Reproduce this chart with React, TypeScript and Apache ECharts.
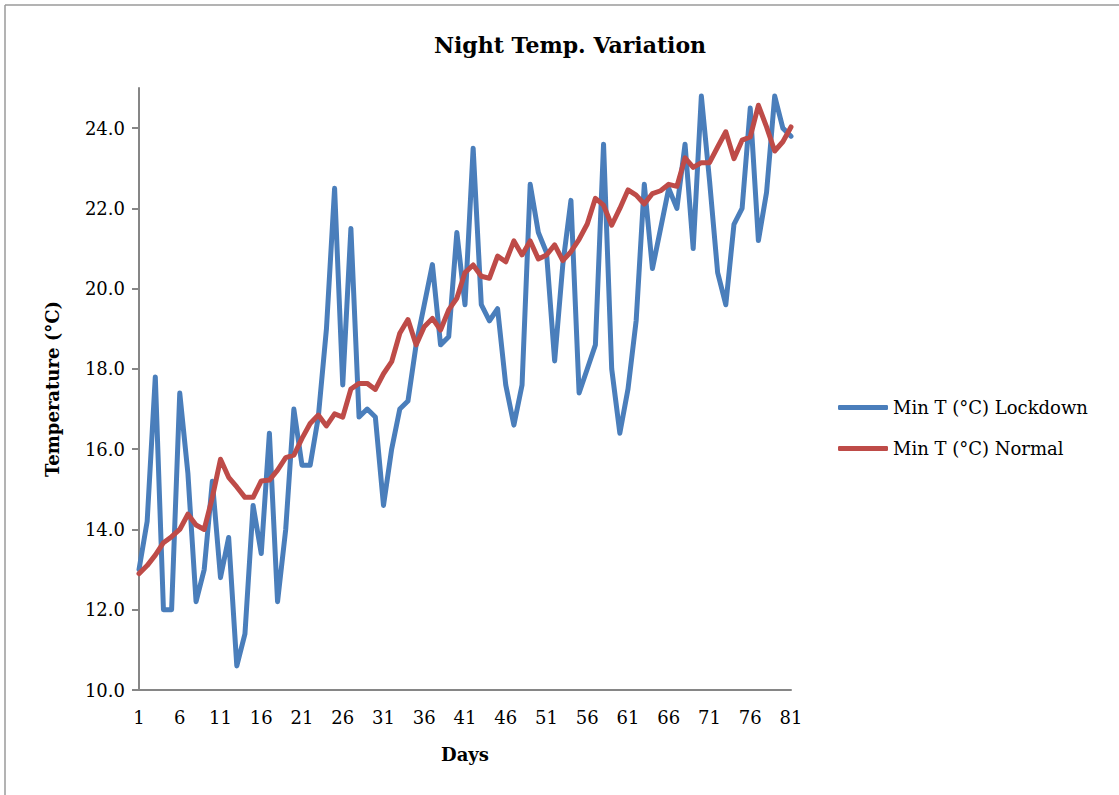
import React, { useEffect, useRef } from "react";
import * as echarts from "echarts";

const days: string[] = [];
for (let i = 1; i <= 81; i++) days.push(String(i));

const yTicks = [10, 12, 14, 16, 18, 20, 22, 24];

const lockdown = [
  13.0, 14.2, 17.8, 12.0, 12.0, 17.4, 15.4, 12.2, 13.0, 15.2,
  12.8, 13.8, 10.6, 11.4, 14.6, 13.4, 16.4, 12.2, 14.0, 17.0,
  15.6, 15.6, 16.8, 19.0, 22.5, 17.6, 21.5, 16.8, 17.0, 16.8,
  14.6, 16.0, 17.0, 17.2, 18.6, 19.6, 20.6, 18.6, 18.8, 21.4,
  19.6, 23.5, 19.6, 19.2, 19.5, 17.6, 16.6, 17.6, 22.6, 21.4,
  20.9, 18.2, 20.6, 22.2, 17.4, 18.0, 18.6, 23.6, 18.0, 16.4,
  17.5, 19.2, 22.6, 20.5, 21.5, 22.5, 22.0, 23.6, 21.0, 24.8,
  22.7, 20.4, 19.6, 21.6, 22.0, 24.5, 21.2, 22.4, 24.8, 24.0,
  23.8,
];

const normal = [
  12.9, 13.1, 13.36, 13.67, 13.82, 14.0, 14.38, 14.11, 14.0, 14.8,
  15.75, 15.3, 15.06, 14.8, 14.8, 15.21, 15.23, 15.48, 15.79, 15.85,
  16.27, 16.64, 16.85, 16.58, 16.88, 16.8, 17.5, 17.64, 17.64, 17.49,
  17.88, 18.18, 18.89, 19.23, 18.6, 19.05, 19.26, 18.97, 19.47, 19.76,
  20.4, 20.59, 20.31, 20.26, 20.81, 20.67, 21.19, 20.84, 21.19, 20.74,
  20.84, 21.09, 20.7, 20.92, 21.23, 21.61, 22.25, 22.08, 21.58, 22.0,
  22.46, 22.33, 22.11, 22.37, 22.44, 22.6, 22.55, 23.26, 23.02, 23.14,
  23.14, 23.53, 23.91, 23.24, 23.7, 23.78, 24.57, 24.03, 23.43, 23.66,
  24.03,
];

const seriesNames = ["Min T (°C) Lockdown", "Min T (°C) Normal"];
const FONT = "DejaVu Serif";

export default function App() {
  const ref = useRef<HTMLDivElement>(null);
  useEffect(() => {
    document.body.style.margin = "0";
    const chart = echarts.init(ref.current!, null, { renderer: "svg" });
    chart.setOption({
      animation: false,
      backgroundColor: "#ffffff",
      title: {
        text: "Night Temp. Variation",
        left: 565,
        textAlign: "center",
        top: 29,
        textStyle: { fontFamily: FONT, fontWeight: "bold", fontSize: 22, color: "#000" },
      },
      legend: {
        orient: "vertical",
        left: 838,
        top: 397,
        padding: 0,
        icon: "roundRect",
        itemWidth: 50,
        itemHeight: 5,
        itemGap: 20,
        textStyle: { fontFamily: FONT, fontSize: 18, color: "#000", lineHeight: 21 },
        data: seriesNames,
      },
      grid: { left: 139, right: 328, top: 88, bottom: 105, containLabel: false },
      xAxis: {
        type: "category",
        data: days,
        boundaryGap: false,
        name: "Days",
        nameLocation: "middle",
        nameGap: 55,
        nameTextStyle: { fontFamily: FONT, fontWeight: "bold", fontSize: 18, color: "#000" },
        axisLine: { lineStyle: { color: "#868686", width: 2 } },
        axisTick: { show: false },
        axisLabel: { interval: 4, margin: 18, fontFamily: FONT, fontSize: 18, color: "#000" },
      },
      yAxis: {
        type: "value",
        min: 10,
        max: 25,
        interval: 2,
        name: "Temperature (°C)",
        nameLocation: "middle",
        nameGap: 78,
        nameTextStyle: { fontFamily: FONT, fontWeight: "bold", fontSize: 18, color: "#000" },
        axisLine: { show: true, lineStyle: { color: "#868686", width: 2 } },
        axisTick: {
          show: true,
          length: 7,
          customValues: yTicks,
          lineStyle: { color: "#868686", width: 2 },
        },
        splitLine: { show: false },
        axisLabel: {
          margin: 14,
          customValues: yTicks,
          fontFamily: FONT,
          fontSize: 18,
          color: "#000",
          formatter: (v: number) => v.toFixed(1),
        },
      },
      series: [
        {
          name: seriesNames[0],
          type: "line",
          data: lockdown,
          symbol: "none",
          lineStyle: { color: "#4a7ebb", width: 5, cap: "round", join: "round" },
          itemStyle: { color: "#4a7ebb" },
          z: 2,
        },
        {
          name: seriesNames[1],
          type: "line",
          data: normal,
          symbol: "none",
          lineStyle: { color: "#be4b48", width: 5, cap: "round", join: "round" },
          itemStyle: { color: "#be4b48" },
          z: 3,
        },
      ],
      graphic: [
        { type: "line", shape: { x1: 5, y1: 5, x2: 1119, y2: 5 }, style: { stroke: "#9a9a9a", lineWidth: 1.5 } },
        { type: "line", shape: { x1: 5, y1: 5, x2: 5, y2: 795 }, style: { stroke: "#9a9a9a", lineWidth: 1.5 } },
      ],
    });
    return () => chart.dispose();
  }, []);
  return <div ref={ref} style={{ width: 1119, height: 795 }} />;
}
